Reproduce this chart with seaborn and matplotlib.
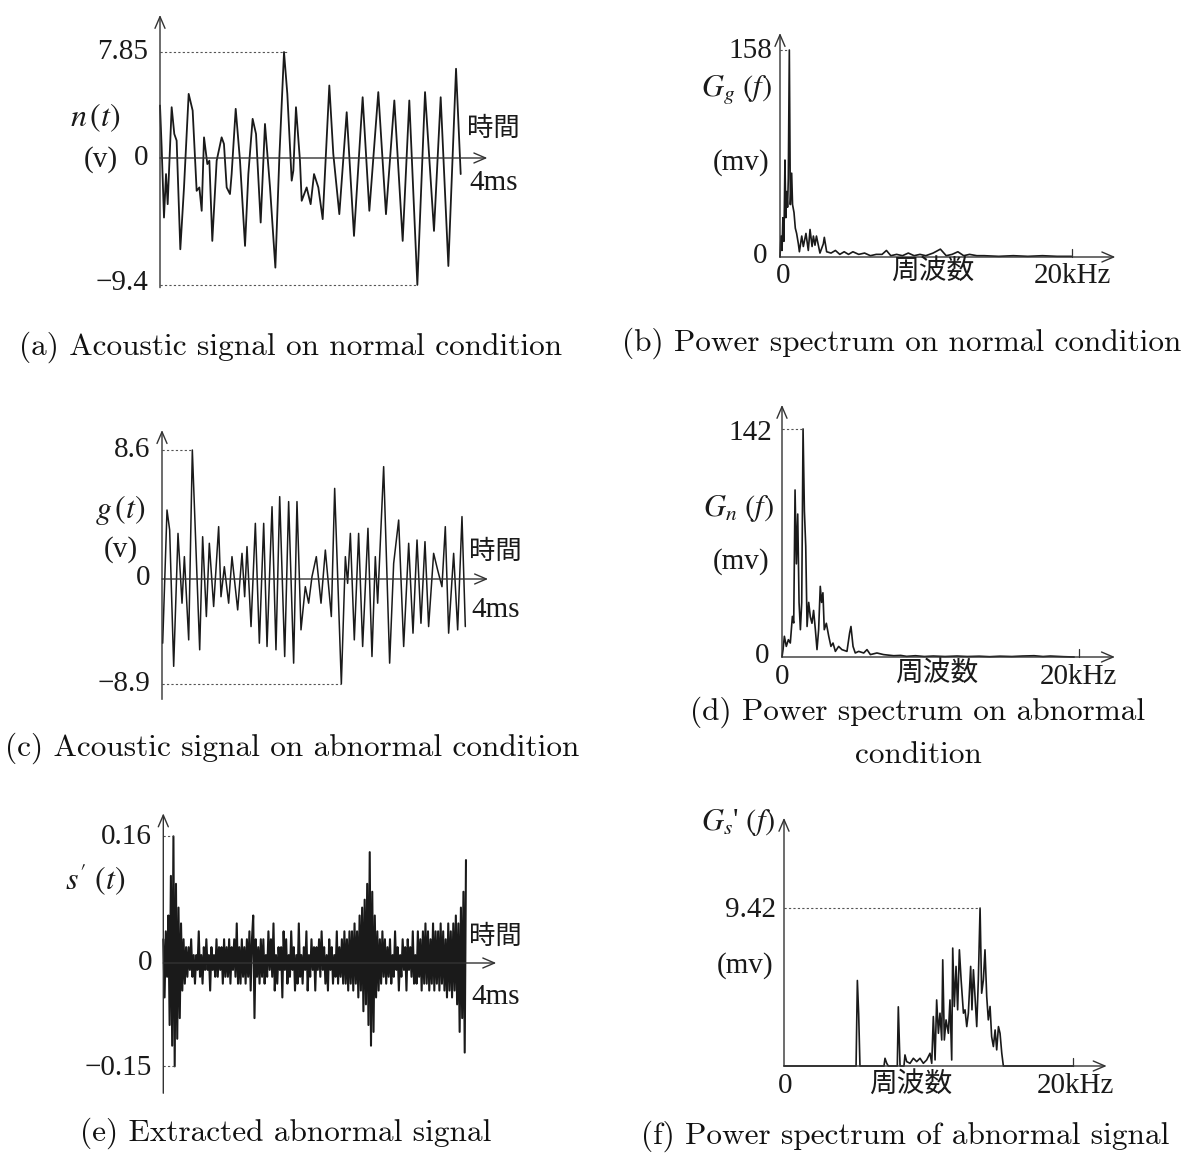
import numpy as np
import matplotlib
matplotlib.use("Agg")
import matplotlib.pyplot as plt
import seaborn as sns

# (a) normal acoustic signal n(t): time [ms], volts
n_t = [0.000, 0.022, 0.053, 0.080, 0.102, 0.155, 0.190, 0.221, 0.270, 0.319, 0.381, 0.434, 0.487, 0.523,
       0.554, 0.585, 0.629, 0.656, 0.695, 0.753, 0.819, 0.850, 0.886, 0.930, 0.952, 1.006, 1.063, 1.130,
       1.174, 1.231, 1.276, 1.338, 1.395, 1.462, 1.533, 1.586, 1.648, 1.692, 1.750, 1.772, 1.807, 1.860,
       1.883, 1.949, 2.002, 2.047, 2.104, 2.162, 2.250, 2.303, 2.383, 2.481, 2.578, 2.693, 2.782, 2.901,
       3.003, 3.114, 3.225, 3.313, 3.420, 3.522, 3.641, 3.730, 3.832, 3.934, 3.996]
n_v = [3.89, 0.79, -4.41, -1.19, -3.42, 3.76, 1.78, 1.29, -6.76, -2.18, 4.75, 3.51, -2.43, -2.18,
       -3.91, 1.53, -0.45, -0.20, -6.14, -0.20, 1.53, 1.04, -2.18, -2.67, -1.19, 3.64, -0.20, -6.51,
       -1.19, 2.90, 1.78, -4.78, 2.52, -2.18, -8.12, 0.05, 7.85, 4.75, -1.68, -0.94, 3.76, -0.20,
       -3.17, -2.18, -3.42, -1.19, -2.18, -4.53, 5.37, 0.30, -4.16, 3.39, -5.77, 4.50, -3.91, 4.88,
       -4.16, 4.26, -6.14, 4.26, -9.40, 4.88, -5.40, 4.50, -8.00, 6.61, -1.19]

# (b) power spectrum, normal: kHz, mV
gg_f = [0.00, 0.07, 0.14, 0.20, 0.27, 0.34, 0.40, 0.46, 0.52, 0.57, 0.64, 0.71, 0.80, 0.86, 0.96,
        1.05, 1.14, 1.26, 1.33, 1.49, 1.60, 1.78, 1.94, 2.06, 2.20, 2.29, 2.40, 2.50, 2.74, 2.97,
        3.04, 3.20, 3.50, 3.80, 4.10, 4.40, 4.70, 5.00, 5.40, 5.80, 6.20, 6.60, 7.00, 7.30, 7.60,
        8.00, 8.40, 8.80, 9.20, 9.60, 10.0, 10.5, 11.0, 11.4, 11.8, 12.2, 12.6, 13.0, 13.5, 14.0,
        15.0, 16.0, 17.0, 18.0, 19.0, 20.0]
gg_a = [0, 16, 5, 30, 12, 74, 30, 50, 38, 60, 158, 40, 64, 40, 34,
        22, 18, 10, 4, 16, 8, 18, 5, 21, 8, 16, 9, 16, 3, 10,
        15, 4, 3, 5, 2, 4, 2, 4, 2, 3, 1, 2, 2, 5, 1,
        2, 1, 3, 1, 2, 1, 3, 6, 1, 2, 4, 1, 2, 1, 1,
        0.5, 1, 0.5, 1, 0.5, 0.5]

# (c) abnormal acoustic signal g(t)
g_t = [0.009, 0.066, 0.101, 0.154, 0.211, 0.264, 0.295, 0.352, 0.400, 0.497, 0.536, 0.585, 0.624,
       0.681, 0.747, 0.778, 0.822, 0.879, 0.923, 0.998, 1.055, 1.090, 1.121, 1.174, 1.231, 1.284,
       1.341, 1.385, 1.451, 1.503, 1.552, 1.618, 1.670, 1.736, 1.780, 1.833, 1.890, 1.934, 1.978,
       2.035, 2.097, 2.154, 2.233, 2.277, 2.365, 2.418, 2.448, 2.484, 2.536, 2.593, 2.646, 2.716,
       2.769, 2.813, 2.844, 2.923, 3.002, 3.055, 3.121, 3.187, 3.253, 3.310, 3.363, 3.415, 3.468,
       3.516, 3.582, 3.635, 3.692, 3.736, 3.780, 3.846, 3.899, 3.956, 4.000]
g_v = [-5.44, 4.60, 3.27, -7.40, 3.04, -2.05, 1.49, -5.16, 8.60, -6.00, 2.82, -3.18, 2.38,
       -2.33, 3.49, -1.50, 0.82, -2.05, 1.49, -2.62, 1.71, -1.50, 2.16, -4.03, 3.71, -5.44,
       3.71, -5.72, 4.82, -6.00, 5.49, -6.57, 5.16, -7.13, 5.16, -4.31, -0.65, -2.05, 0.16,
       1.49, -2.05, 1.93, -3.18, 6.04, -8.90, 1.49, -0.37, 3.04, -5.16, 3.04, -5.72, 3.38,
       -6.57, 1.49, -2.05, 7.49, -7.13, 1.04, 3.93, -5.72, 2.38, -4.59, 2.60, -3.75, 2.49,
       -4.03, 1.71, 0.60, -0.65, 3.49, -4.59, 1.71, -4.31, 4.16, -4.03]

# (d) power spectrum, abnormal
gn_f = [0.00, 0.07, 0.16, 0.29, 0.43, 0.56, 0.70, 0.79, 0.88, 0.97, 1.06, 1.15, 1.24, 1.33, 1.42,
        1.51, 1.60, 1.69, 1.80, 1.91, 2.02, 2.13, 2.25, 2.36, 2.47, 2.58, 2.67, 2.76, 2.85, 2.99,
        3.15, 3.30, 3.44, 3.60, 3.82, 4.04, 4.38, 4.56, 4.65, 4.79, 4.94, 5.17, 5.51, 5.73, 5.96,
        6.40, 6.85, 7.53, 8.0, 8.4, 9.0, 9.6, 10.2, 11.0, 11.8, 12.5, 13.3, 14.0, 14.7, 15.5,
        16.2, 17.0, 17.6, 18.1, 19.0, 19.7]
gn_a = [0, 4.6, 12.9, 6.6, 10.8, 8.7, 25.3, 21.2, 104, 58, 89, 34, 17, 34, 142,
        91, 69, 19, 34, 25, 21, 29, 17, 4.6, 17, 44, 34, 40, 17, 21,
        13, 6.6, 8.7, 3.5, 6.6, 4.6, 3.5, 15, 19, 6.6, 2.5, 3.5, 2.5, 4.6, 1.5,
        2.5, 1.5, 0.8, 1.0, 0.4, 0.8, 0.3, 0.6, 0.3, 0.6, 0.3, 0.5, 0.2, 0.5, 0.3,
        0.6, 0.8, 0.3, 0.6, 0.2, 0.0]

# (e) extracted abnormal signal s'(t), evenly sampled over 4 ms
s_v = [0.03, -0.05, 0.04, -0.02, 0.06, -0.09, 0.11, -0.12, 0.16, -0.15, 0.10, -0.11, 0.07, -0.08, 0.05, -0.04, 0.03, -0.03, 0.02, -0.02,
       0.02, -0.01, 0.03, -0.02, 0.01, -0.03, 0.01, -0.01, 0.04, -0.02, 0.01, -0.03, 0.02, -0.01, 0.03, -0.01, 0.01, -0.04, 0.02, -0.01,
       0.01, -0.02, 0.03, -0.02, 0.02, -0.01, 0.02, -0.03, 0.03, -0.02, 0.02, -0.02, 0.03, -0.03, 0.02, -0.01, 0.03, -0.02, 0.05, -0.03,
       0.02, -0.03, 0.03, -0.02, 0.02, -0.03, 0.03, -0.02, 0.04, -0.04, 0.03, 0.06, -0.08, 0.03, -0.02, 0.02, -0.03, 0.03, -0.02, 0.03,
       -0.03, 0.01, -0.02, 0.04, -0.01, 0.03, -0.02, 0.05, -0.04, 0.01, -0.03, 0.02, -0.01, 0.02, -0.05, 0.04, -0.01, 0.03, -0.03, 0.01,
       -0.02, 0.04, -0.01, 0.02, -0.04, 0.01, -0.03, 0.05, -0.02, 0.01, -0.03, 0.02, -0.01, 0.04, -0.04, 0.01, -0.02, 0.03, -0.01, 0.02,
       -0.04, 0.02, -0.01, 0.03, -0.02, 0.04, -0.01, 0.02, -0.03, 0.01, -0.04, 0.03, -0.01, 0.02, -0.03, 0.01, -0.02, 0.04, -0.03, 0.02,
       -0.02, 0.03, -0.03, 0.04, -0.03, 0.03, -0.04, 0.04, -0.03, 0.04, -0.04, 0.05, -0.03, 0.04, -0.05, 0.06, -0.04, 0.07, -0.07, 0.08,
       -0.06, 0.10, -0.09, 0.14, -0.12, 0.09, -0.10, 0.06, -0.05, 0.04, -0.04, 0.03, -0.03, 0.04, -0.02, 0.03, -0.03, 0.02, -0.02, 0.03,
       -0.03, 0.01, -0.02, 0.04, -0.01, 0.02, -0.04, 0.01, -0.02, 0.03, -0.01, 0.02, -0.04, 0.03, -0.01, 0.02, -0.02, 0.04, -0.03, 0.01,
       -0.03, 0.04, -0.02, 0.03, -0.04, 0.04, -0.03, 0.05, -0.03, 0.04, -0.04, 0.03, -0.03, 0.05, -0.04, 0.04, -0.03, 0.04, -0.04, 0.05,
       -0.03, 0.04, -0.04, 0.03, -0.05, 0.05, -0.04, 0.04, -0.05, 0.05, -0.04, 0.06, -0.06, 0.05, -0.10, 0.07, -0.08, 0.09, -0.13, 0.13]
s_t = np.linspace(0, 4, len(s_v))

# (f) power spectrum of the extracted signal
gs_f = [0.0, 4.98, 5.07, 5.16, 5.25, 6.91, 6.98, 7.10, 7.21, 7.83, 7.90, 8.02, 8.29, 8.36, 8.48,
        8.71, 8.94, 9.17, 9.40, 9.63, 9.86, 10.09, 10.21, 10.32, 10.44, 10.55, 10.67, 10.78, 10.90,
        10.97, 11.08, 11.20, 11.36, 11.47, 11.59, 11.66, 11.77, 11.89, 12.00, 12.12, 12.24, 12.40,
        12.51, 12.63, 12.74, 12.90, 12.99, 13.09, 13.20, 13.32, 13.43, 13.55, 13.66, 13.78, 13.89,
        14.01, 14.12, 14.24, 14.35, 14.47, 14.59, 14.70, 14.82, 14.93, 15.05, 15.16, 20.0]
gs_a = [0, 0, 5.10, 3.10, 0, 0, 0.46, 0.16, 0, 0, 3.53, 0, 0, 0.66, 0.26,
        0.16, 0.46, 0.26, 0.46, 0.16, 0.36, 0.76, 0.16, 2.95, 0.36, 3.94, 1.95, 3.15, 1.55,
        6.33, 1.55, 2.75, 1.95, 3.94, 0.36, 7.03, 3.55, 5.94, 3.35, 6.93, 5.14, 3.15,
        3.35, 2.35, 3.15, 5.94, 3.35, 5.74, 4.14, 2.35, 5.14, 9.42, 4.34, 5.14, 6.93,
        4.14, 2.75, 3.55, 1.75, 1.16, 2.15, 0.96, 2.35, 1.95, 0.76, 0, 0]

captions = ["(a) Acoustic signal on normal condition",
            "(b) Power spectrum on normal condition",
            "(c) Acoustic signal on abnormal condition",
            "(d) Power spectrum on abnormal",
            "condition",
            "(e) Extracted abnormal signal",
            "(f) Power spectrum of abnormal signal"]

sns.set_theme(style="white")
plt.rcParams["mathtext.fontset"] = "stix"

INK = "#1a1a1a"
AXC = "#333333"
SERIF = ["Liberation Serif", "DejaVu Serif"]
JP = ["Noto Sans CJK JP", "DejaVu Sans"]
W, H = 1194, 1160

fig = plt.figure(figsize=(W / 100, H / 100), dpi=100)
fig.patch.set_facecolor("white")


def txt(x, y, s, size=20, ha="center", family=SERIF, **kw):
    fig.text(x / W, 1 - y / H, s, ha=ha, va="center", fontsize=size, family=family, color=INK, **kw)


def panel(box, x0, xs, y0, ys, k=None):
    # box in pixels (left, top, right, bottom); x0/y0 pixel of data origin, xs/ys px per unit
    left, top, right, bottom = box
    ax = fig.add_axes([left / W, 1 - bottom / H, (right - left) / W, (bottom - top) / H])
    if k:
        ax.set_yscale("function", functions=(lambda v: np.where(v < 0, v * k, v),
                                             lambda v: np.where(v < 0, v / k, v)))
    lo, hi = (y0 - bottom) / ys, (y0 - top) / ys
    if k and lo < 0:
        lo = lo / k
    ax._lims = ((left - x0) / xs, (right - x0) / xs, lo, hi)
    return ax


def finish(ax, x_end, y_top, y_bot):
    arrow = dict(arrowstyle="->,head_length=0.7,head_width=0.3", lw=1.0, color=AXC, shrinkA=0, shrinkB=0)
    ax.annotate("", xy=(x_end, 0), xytext=(0, 0), arrowprops=arrow, annotation_clip=False)
    ax.annotate("", xy=(0, y_top), xytext=(0, y_bot), arrowprops=arrow, annotation_clip=False)
    x1, x2, y1, y2 = ax._lims
    ax.set_xlim(x1, x2)
    ax.set_ylim(y1, y2)
    ax.axis("off")


def dashed(ax, x, y):
    ax.plot([0, x], [y, y], ls=(0, (2, 2)), lw=0.8, color="#555555")


def trace(ax, x, y, lw=1.1):
    sns.lineplot(x=x, y=y, ax=ax, color=INK, lw=lw, estimator=None, sort=False)


def khz_tick(ax, ys):
    ax.plot([20, 20], [0, 8 / ys], color=AXC, lw=0.9)


# (a)
ax = panel((0, 0, 560, 310), 160, 75.25, 158, 13.5)
trace(ax, n_t, n_v, lw=1.3)
dashed(ax, 1.69, 7.85)
dashed(ax, 3.42, -9.4)
finish(ax, 4.35, 10.6, -9.6)
txt(148, 52, "7.85", ha="right", size=21)
txt(148, 158, "0", ha="right", size=21)
txt(148, 283, "−9.4", ha="right", size=21)
txt(95, 118, r"$n\,(t)$", size=23)
txt(101, 160, "(v)", size=21)
txt(467, 128, "時間", ha="left", family=JP, size=19)
txt(469, 183, "4ms", ha="left", size=21)

# (b)
ax = panel((640, 10, 1194, 300), 780, 14.58, 257, 1.31)
trace(ax, gg_f, gg_a, lw=1.2)
dashed(ax, 0.64, 158)
khz_tick(ax, 1.31)
finish(ax, 23.0, 171, 0)
txt(772, 51, "158", ha="right", size=21)
txt(736, 90, r"$G_g\ (f)$", size=22)
txt(741, 163, "(mv)", size=21)
txt(767, 256, "0", ha="right", size=21)
txt(783, 276, "0", size=21)
txt(933, 271, "周波数", family=JP, size=20)
txt(1072, 276, "20kHz", size=21)

# (c)
ax = panel((0, 410, 560, 715), 162, 75.83, 579, 15.0, k=11.8 / 15.0)
trace(ax, g_t, g_v, lw=1.1)
dashed(ax, 0.40, 8.6)
dashed(ax, 2.365, -8.9)
finish(ax, 4.3, 9.93, -10.2)
txt(150, 450, "8.6", ha="right", size=21)
txt(150, 578, "0", ha="right", size=21)
txt(150, 684, "−8.9", ha="right", size=21)
txt(120, 510, r"$g\,(t)$", size=23)
txt(121, 550, "(v)", size=21)
txt(469, 551, "時間", ha="left", family=JP, size=19)
txt(471, 610, "4ms", ha="left", size=21)

# (d)
ax = panel((640, 390, 1194, 690), 782, 14.83, 657, 1.606)
trace(ax, gn_f, gn_a, lw=1.2)
dashed(ax, 1.42, 142)
khz_tick(ax, 1.606)
finish(ax, 22.45, 157, 0)
txt(772, 433, "142", ha="right", size=21)
txt(738, 508, r"$G_n\ (f)$", size=22)
txt(741, 562, "(mv)", size=21)
txt(769, 656, "0", ha="right", size=21)
txt(782, 677, "0", size=21)
txt(937, 673, "周波数", family=JP, size=20)
txt(1078, 677, "20kHz", size=21)

# (e)
ax = panel((0, 800, 560, 1100), 163.3, 75.67, 963, 791.7, k=689 / 791.7)
trace(ax, s_t, s_v, lw=1.5)
dashed(ax, 0.13, 0.16)
dashed(ax, 0.15, -0.15)
finish(ax, 4.4, 0.189, -0.189)
txt(152, 837, "0.16", ha="right", size=21)
txt(152, 963, "0", ha="right", size=21)
txt(152, 1068, "−0.15", ha="right", size=21)
txt(95, 880, r"$s'\ (t)$", size=23)
txt(469, 936, "時間", ha="left", family=JP, size=19)
txt(471, 997, "4ms", ha="left", size=21)

# (f)
ax = panel((640, 800, 1194, 1100), 784, 14.47, 1066, 16.77)
trace(ax, gs_f, gs_a, lw=1.2)
dashed(ax, 13.55, 9.42)
khz_tick(ax, 16.77)
finish(ax, 22.3, 14.8, 0)
txt(776, 910, "9.42", ha="right", size=21)
txt(738, 822, r"$G_s$' $(f)$", size=22)
txt(745, 966, "(mv)", size=21)
txt(785, 1086, "0", size=21)
txt(911, 1084, "周波数", family=JP, size=20)
txt(1075, 1086, "20kHz", size=21)

# captions
cap_pos = [(291, 347), (902, 343), (292, 748), (918, 712), (918, 755), (286, 1133), (905, 1136)]
for (cx, cy), cap in zip(cap_pos, captions):
    fig.text(cx / W, 1 - cy / H, cap, ha="center", va="center", fontsize=22.5,
             family="cmr10", color="#111111")

fig.savefig("out.png", dpi=100, facecolor="white")
